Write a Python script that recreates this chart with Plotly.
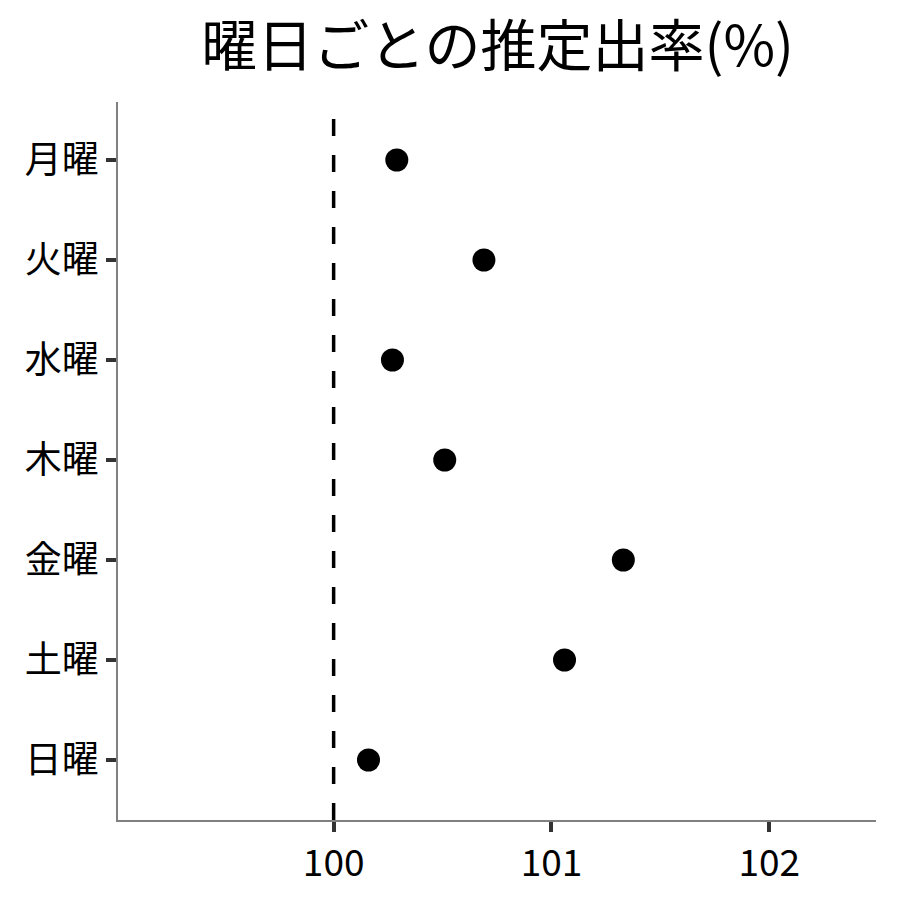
import plotly.graph_objects as go

# 曜日ごとの推定出率 (%)
days = ['月曜', '火曜', '水曜', '木曜', '金曜', '土曜', '日曜']
rates = [100.29, 100.69, 100.27, 100.51, 101.33, 101.06, 100.16]
x_ticks = [100, 101, 102]
ref_value = 100

font_family = 'Noto Sans CJK JP'

fig = go.Figure()

fig.add_trace(go.Scatter(
    x=rates,
    y=days,
    mode='markers',
    marker=dict(color='black', size=23),
    showlegend=False,
))

# reference line at 100%
fig.add_vline(x=ref_value, line=dict(color='black', width=3.5, dash='17px,19px'), layer='below')

fig.update_layout(
    width=900,
    height=900,
    paper_bgcolor='white',
    plot_bgcolor='white',
    margin=dict(l=110, r=32, t=94, b=88),
    font=dict(family=font_family, color='black'),
    title=dict(
        text='曜日ごとの推定出率(%)',
        x=0.544, xanchor='center',
        y=0.957, yanchor='middle',
        font=dict(size=56, family=font_family, color='black'),
    ),
)

axis_style = dict(
    showgrid=False,
    zeroline=False,
    showline=True,
    linecolor='#808080',
    linewidth=1.5,
    ticks='outside',
    ticklen=10,
    tickwidth=4,
    tickcolor='#333333',
    tickfont=dict(size=37, color='black'),
)

fig.update_xaxes(range=[99.01, 102.49], tickvals=x_ticks, **axis_style)

fig.update_yaxes(
    categoryorder='array',
    categoryarray=days[::-1],
    range=[-0.6, 6.58],
    **axis_style,
)

fig.write_html('out.html')
